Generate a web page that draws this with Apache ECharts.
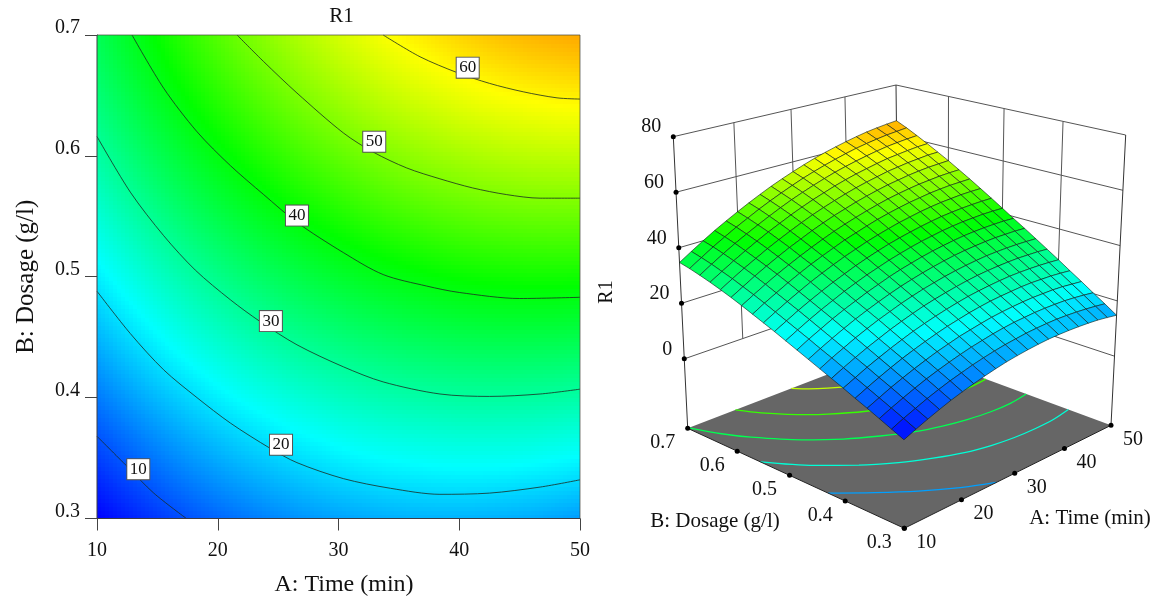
<!DOCTYPE html>
<html><head><meta charset="utf-8">
<style>html,body{margin:0;padding:0;background:#fff}#c{width:1161px;height:599px}</style>
<script src="https://cdn.jsdelivr.net/npm/echarts@6/dist/echarts.min.js"></script>
</head><body><div id="c"></div>
<script>
// Axis categories
const timeTicks = [10,20,30,40,50];
const dosageTicks = [0.3,0.4,0.5,0.6,0.7];
const r1Ticks = [0,20,40,60,80];
const gridTimes = [10,12,14,16,18,20,22,24,26,28,30,32,34,36,38,40,42,44,46,48,50];
const gridDosages = [0.30,0.32,0.34,0.36,0.38,0.40,0.42,0.44,0.46,0.48,0.50,0.52,0.54,0.56,0.58,0.60,0.62,0.64,0.66,0.68,0.70];

// R1 read at each Time, for Dosage 0.30 .. 0.70
const r1AtTime10 = [3.4,5.2,7.0,8.8,10.5,12.3,14.0,15.7,17.4,19.1,20.8,22.5,24.1,25.7,27.3,28.8,30.2,31.5,32.7,33.8,34.7];
const r1AtTime12 = [5.1,7.0,8.8,10.6,12.4,14.2,16.0,17.8,19.5,21.3,23.0,24.7,26.4,28.1,29.7,31.2,32.7,34.0,35.3,36.4,37.4];
const r1AtTime14 = [6.7,8.6,10.5,12.4,14.2,16.1,17.9,19.7,21.5,23.3,25.1,26.9,28.6,30.3,32.0,33.6,35.1,36.5,37.8,39.0,40.0];
const r1AtTime16 = [8.2,10.2,12.1,14.0,15.9,17.8,19.7,21.6,23.4,25.3,27.1,28.9,30.7,32.5,34.2,35.8,37.3,38.8,40.2,41.4,42.5];
const r1AtTime18 = [9.6,11.6,13.6,15.5,17.5,19.4,21.3,23.3,25.2,27.1,28.9,30.8,32.7,34.5,36.2,37.9,39.5,41.0,42.4,43.7,44.8];
const r1AtTime20 = [10.8,12.9,14.9,16.9,18.9,20.9,22.9,24.9,26.8,28.7,30.7,32.6,34.5,36.4,38.1,39.9,41.5,43.1,44.5,45.8,47.0];
const r1AtTime22 = [11.9,14.0,16.1,18.2,20.2,22.3,24.3,26.3,28.3,30.3,32.3,34.2,36.2,38.1,39.9,41.7,43.4,45.0,46.5,47.9,49.1];
const r1AtTime24 = [12.9,15.1,17.2,19.3,21.4,23.5,25.6,27.7,29.7,31.7,33.8,35.8,37.8,39.7,41.6,43.5,45.2,46.9,48.4,49.8,51.1];
const r1AtTime26 = [13.8,16.0,18.2,20.4,22.5,24.6,26.8,28.9,31.0,33.1,35.1,37.2,39.2,41.3,43.2,45.1,46.9,48.6,50.2,51.6,53.0];
const r1AtTime28 = [14.6,16.8,19.0,21.2,23.4,25.6,27.8,30.0,32.1,34.3,36.4,38.5,40.6,42.6,44.6,46.6,48.4,50.2,51.8,53.3,54.7];
const r1AtTime30 = [15.2,17.5,19.8,22.0,24.3,26.5,28.7,30.9,33.1,35.3,37.5,39.7,41.8,43.9,45.9,47.9,49.8,51.6,53.3,54.9,56.3];
const r1AtTime32 = [15.7,18.0,20.4,22.7,25.0,27.3,29.5,31.8,34.0,36.3,38.5,40.7,42.9,45.1,47.1,49.2,51.1,53.0,54.7,56.3,57.8];
const r1AtTime34 = [16.1,18.5,20.9,23.2,25.6,27.9,30.2,32.5,34.8,37.1,39.4,41.6,43.9,46.1,48.2,50.3,52.3,54.2,56.0,57.6,59.2];
const r1AtTime36 = [16.4,18.8,21.2,23.6,26.0,28.4,30.8,33.1,35.5,37.8,40.1,42.4,44.7,47.0,49.2,51.3,53.3,55.3,57.1,58.8,60.4];
const r1AtTime38 = [16.5,19.0,21.5,23.9,26.3,28.8,31.2,33.6,36.0,38.4,40.8,43.1,45.5,47.8,50.0,52.2,54.2,56.2,58.1,59.9,61.5];
const r1AtTime40 = [16.5,19.1,21.6,24.1,26.6,29.1,31.5,34.0,36.4,38.9,41.3,43.7,46.1,48.4,50.7,52.9,55.1,57.1,59.0,60.9,62.5];
const r1AtTime42 = [16.4,19.0,21.6,24.1,26.7,29.2,31.7,34.2,36.7,39.2,41.7,44.1,46.6,49.0,51.3,53.6,55.7,57.9,59.8,61.7,63.4];
const r1AtTime44 = [16.2,18.8,21.5,24.1,26.6,29.2,31.8,34.3,36.9,39.4,41.9,44.4,46.9,49.4,51.7,54.1,56.3,58.4,60.5,62.4,64.2];
const r1AtTime46 = [15.9,18.5,21.2,23.9,26.5,29.1,31.7,34.3,36.9,39.5,42.1,44.6,47.2,49.7,52.1,54.5,56.7,58.9,61.0,63.0,64.8];
const r1AtTime48 = [15.4,18.1,20.8,23.5,26.2,28.9,31.6,34.2,36.9,39.5,42.1,44.7,47.3,49.8,52.3,54.7,57.1,59.3,61.4,63.4,65.3];
const r1AtTime50 = [14.8,17.6,20.3,23.1,25.8,28.6,31.3,34.0,36.7,39.3,42.0,44.7,47.3,49.9,52.4,54.9,57.2,59.5,61.7,63.8,65.7];
const r1Grid = [r1AtTime10,r1AtTime12,r1AtTime14,r1AtTime16,r1AtTime18,r1AtTime20,r1AtTime22,r1AtTime24,r1AtTime26,r1AtTime28,r1AtTime30,r1AtTime32,r1AtTime34,r1AtTime36,r1AtTime38,r1AtTime40,r1AtTime42,r1AtTime44,r1AtTime46,r1AtTime48,r1AtTime50];

// Contours of the flat plot as [Time, Dosage]
const contour10 = [[10,.368],[12.5,.343],[14.7,.321],[17.4,.30]];
const contour20 = [[10,.488],[12.76,.453],[15.52,.423],[18.28,.40],[21.04,.379],[24.35,.358],[26.56,.3462],[30.4,.333],[34.3,.325],[38.4,.32],[42.5,.321],[46.7,.326],[50,.332]];
const contour30 = [[10,.616],[12.76,.57],[15.52,.534],[18.14,.5055],[21.04,.481],[23.5,.463],[26.56,.4437],[30.4,.4255],[33.7,.413],[38.4,.403],[42.5,.401],[46.7,.403],[50,.407]];
const contour40 = [[12.9,.70],[15.52,.656],[18.28,.62],[21.04,.592],[23.8,.568],[26.56,.545],[30.4,.52],[33.7,.5018],[37.3,.4923],[40,.487],[45,.482],[50,.483]];
const contour50 = [[21.6,.70],[23.8,.678],[26.56,.652],[30.4,.619],[32.9,.603],[35.65,.59],[38.4,.581],[41.1,.5735],[43.9,.568],[46.7,.565],[50,.565]];
const contour60 = [[33.7,.70],[36.75,.682],[39.8,.669],[42.5,.66],[45.3,.653],[48.1,.648],[50,.647]];
const contourLevels = [10,20,30,40,50,60];
const contourLines = [contour10,contour20,contour30,contour40,contour50,contour60];
const contourLabelPoints = [[13.42,.3408],[25.24,.361],[24.4,.4633],[26.56,.5506],[32.96,.6117],[40.7,.673]];

// Contours on the floor of the 3D box as [Time, Dosage]
const floor15 = [[10,.43],[14,.39],[18,.354],[22,.325],[26.5,.30]];
const floor25 = [[10,.555],[14,.499],[18,.458],[22,.427],[26,.404],[30,.386],[34,.375],[38,.369],[42,.367],[46,.368],[50,.374]];
const floor35 = [[10.2,.70],[12,.655],[14,.619],[18,.566],[22,.528],[26,.50],[30,.477],[34,.462],[38,.452],[42,.446],[46,.445],[50,.45]];
const floor45 = [[18.2,.70],[20,.668],[24,.618],[26,.60],[30,.571],[34,.55],[38,.536],[42,.527],[46,.523],[50,.526]];
const floor55 = [[28.4,.70],[30,.681],[32,.664],[36,.637],[40,.619],[44,.608],[48,.603],[50,.601]];
const floorLevels = [15,25,35,45,55];
const floorLines = [floor15,floor25,floor35,floor45,floor55];

// Colour ramp
const rampStops = [3.4,22,41,59.5,78];
const rampColors = [[0,0,255],[0,255,255],[0,255,0],[255,255,0],[255,0,0]];
function ramp(v){
  let k=0; while(k<rampStops.length-2 && v>rampStops[k+1]) k++;
  const t=Math.max(0,Math.min(1,(v-rampStops[k])/(rampStops[k+1]-rampStops[k])));
  const a=rampColors[k],b=rampColors[k+1];
  return 'rgb('+[0,1,2].map(n=>Math.round(a[n]+(b[n]-a[n])*t)).join(',')+')';
}

// 3D view: screen position of the box corners, order (u,v) = 00,10,01,11
const floorBox = [[904.3,528.3],[1111,425.3],[687.7,428.3],[899,347]];
const topBox = [[903,201],[1125.7,135],[673.3,136.7],[896,85]];
const zFloor = -25, zTop = 80;
function square(c){
  const [x0,y0]=c[0],[x1,y1]=c[1],[x3,y3]=c[2],[x2,y2]=c[3];
  const dx1=x1-x2,dx2=x3-x2,sx=x0-x1+x2-x3,dy1=y1-y2,dy2=y3-y2,sy=y0-y1+y2-y3;
  const d=dx1*dy2-dx2*dy1,g=(sx*dy2-dx2*sy)/d,h=(dx1*sy-sx*dy1)/d;
  return (u,v)=>{const w=g*u+h*v+1;return [((x1-x0+g*x1)*u+(x3-x0+h*x3)*v+x0)/w,((y1-y0+g*y1)*u+(y3-y0+h*y3)*v+y0)/w];};
}
const floorMap=square(floorBox),topMap=square(topBox);
function project(A,B,z){
  const u=(A-10)/40,v=(B-.3)/.4,w=(z-zFloor)/(zTop-zFloor);
  const f=floorMap(u,v),t=topMap(u,v);
  return [f[0]+(t[0]-f[0])*w,f[1]+(t[1]-f[1])*w];
}

const serif='Liberation Serif';
// Left heat cells
const cellData=[];
for(let i=0;i<20;i++)for(let j=0;j<20;j++)cellData.push([gridTimes[i],gridDosages[j],i,j]);
const SUB=6;
function heatCell(p,api){
  const i=api.value(2),j=api.value(3),kids=[];
  const a=r1Grid[i][j],b=r1Grid[i+1][j],c=r1Grid[i][j+1],d=r1Grid[i+1][j+1];
  const p0=api.coord([gridTimes[i],gridDosages[j]]),p1=api.coord([gridTimes[i+1],gridDosages[j+1]]);
  for(let m=0;m<SUB;m++)for(let n=0;n<SUB;n++){
    const s=(m+.5)/SUB,t=(n+.5)/SUB,v=a*(1-s)*(1-t)+b*s*(1-t)+c*(1-s)*t+d*s*t;
    const x0=Math.floor(p0[0]+(p1[0]-p0[0])*m/SUB),x1=Math.ceil(p0[0]+(p1[0]-p0[0])*(m+1)/SUB);
    const y0=Math.ceil(p0[1]+(p1[1]-p0[1])*n/SUB),y1=Math.floor(p0[1]+(p1[1]-p0[1])*(n+1)/SUB);
    kids.push({type:'rect',shape:{x:x0,y:y1,width:x1-x0,height:y0-y1},style:{fill:ramp(v)}});
  }
  return {type:'group',children:kids};
}
// Surface quads, back to front
const quadData=[];
for(let i=19;i>=0;i--)for(let j=19;j>=0;j--)quadData.push([i,j]);
function surfaceQuad(p,api){
  const i=api.value(0),j=api.value(1);
  const corners=[[i,j],[i+1,j],[i+1,j+1],[i,j+1]];
  const pts=corners.map(c=>api.coord(project(gridTimes[c[0]],gridDosages[c[1]],r1Grid[c[0]][c[1]])));
  const mean=corners.reduce((s,c)=>s+r1Grid[c[0]][c[1]],0)/4;
  return {type:'polygon',shape:{points:pts},style:{fill:ramp(mean),stroke:'#0e1c16',lineWidth:.6}};
}
// Wall and edge segments
const wallSegs=[],poleSegs=[],edgeSegs=[];
r1Ticks.forEach(z=>{
  wallSegs.push([...project(10,.7,z),...project(50,.7,z)]);
  wallSegs.push([...project(50,.7,z),...project(50,.3,z)]);
});
[20,30,40].forEach(A=>wallSegs.push([...project(A,.7,0),...project(A,.7,80)]));
[.4,.5,.6].forEach(B=>wallSegs.push([...project(50,B,0),...project(50,B,80)]));
poleSegs.push([...project(10,.7,zFloor),...project(10,.7,80)]);
poleSegs.push([...project(50,.3,zFloor),...project(50,.3,80)]);
poleSegs.push([...project(50,.7,zFloor),...project(50,.7,80)]);
edgeSegs.push([...project(10,.7,zFloor),...project(10,.3,zFloor)]);
edgeSegs.push([...project(10,.3,zFloor),...project(50,.3,zFloor)]);
const segRender=(color,width)=>(p,api)=>{
  const a=api.coord([api.value(0),api.value(1)]),b=api.coord([api.value(2),api.value(3)]);
  return {type:'line',shape:{x1:a[0],y1:a[1],x2:b[0],y2:b[1]},style:{stroke:color,lineWidth:width}};
};
const seg3d=(data,color,width,z)=>({type:'custom',xAxisIndex:1,yAxisIndex:1,silent:true,clip:false,z,data,renderItem:segRender(color,width),encode:{x:[0,2],y:[1,3]}});

const zLabelData=r1Ticks.map(z=>({value:project(10,.7,z),name:String(z)}));
const bLabelData=dosageTicks.map(B=>({value:project(10,B,zFloor),name:B.toFixed(1)}));
const aLabelData=timeTicks.map(A=>({value:project(A,.3,zFloor),name:String(A)}));
const labelSeries=(data,offset,align)=>({type:'scatter',xAxisIndex:1,yAxisIndex:1,silent:true,z:20,symbolSize:0,itemStyle:{opacity:1},data,
  label:{show:true,position:'inside',offset,align,verticalAlign:'middle',formatter:'{b}',fontFamily:serif,fontSize:20,color:'#111'}});
const dotSeries=data=>({type:'scatter',xAxisIndex:1,yAxisIndex:1,silent:true,z:7,symbolSize:5,itemStyle:{color:'#000',opacity:1},data:data.map(d=>d.value)});

const series=[
  {type:'custom',xAxisIndex:0,yAxisIndex:0,silent:true,z:2,data:cellData,renderItem:heatCell,encode:{x:0,y:1}},
  {type:'line',xAxisIndex:0,yAxisIndex:0,silent:true,z:4,showSymbol:false,symbol:'none',clip:false,data:[[10,.7],[50,.7],[50,.3]],lineStyle:{color:'rgba(70,70,60,.7)',width:1}},
  {type:'line',xAxisIndex:0,yAxisIndex:0,silent:true,z:4,showSymbol:false,symbol:'none',clip:false,data:[[10,.7],[10,.3],[50,.3]],lineStyle:{color:'#3c3c44',width:1}},
  ...contourLines.map(c=>({type:'line',xAxisIndex:0,yAxisIndex:0,silent:true,z:3,showSymbol:false,symbol:'none',smooth:.3,data:c,lineStyle:{color:'#1c2b22',width:.8}})),
  {type:'scatter',xAxisIndex:0,yAxisIndex:0,silent:true,z:5,symbolSize:0,itemStyle:{opacity:1},data:contourLabelPoints.map((p,k)=>({value:p,name:String(contourLevels[k])})),
    label:{show:true,position:'inside',formatter:'{b}',fontFamily:serif,fontSize:17,color:'#111',backgroundColor:'#fff',borderColor:'#555',borderWidth:1,padding:[2,2.5,1,2.5]}},
  seg3d(wallSegs,'#555',1,1),
  seg3d(poleSegs,'#333',1,1),
  {type:'custom',xAxisIndex:1,yAxisIndex:1,silent:true,clip:false,z:2,data:[[0]],encode:{x:0,y:0},
    renderItem:(p,api)=>({type:'polygon',shape:{points:[floorBox[0],floorBox[1],floorBox[3],floorBox[2]].map(q=>api.coord(q))},style:{fill:'#666666'}})},
  ...floorLines.map((c,k)=>({type:'line',xAxisIndex:1,yAxisIndex:1,silent:true,z:3,showSymbol:false,symbol:'none',smooth:.3,clip:false,
    data:c.map(q=>project(q[0],q[1],zFloor)),lineStyle:{color:ramp(floorLevels[k]),width:1.3}})),
  seg3d(edgeSegs,'#222',1,4),
  dotSeries(zLabelData),dotSeries(bLabelData),dotSeries(aLabelData),
  {type:'custom',xAxisIndex:1,yAxisIndex:1,silent:true,clip:false,z:6,data:quadData,renderItem:surfaceQuad,encode:{x:0,y:1}},
  labelSeries(zLabelData,[-12,-9.5],'right'),
  labelSeries(bLabelData,[-25,14.5],'center'),
  labelSeries(aLabelData,[22,14],'center')
];

const chart=echarts.init(document.getElementById('c'),null,{renderer:'canvas'});
chart.setOption({
  animation:false,
  backgroundColor:'#fff',
  textStyle:{fontFamily:serif},
  title:{text:'R1',left:336.5,top:1,textAlign:'center',textStyle:{fontFamily:serif,fontSize:21,fontWeight:'normal',color:'#111'}},
  grid:[{left:97,top:35,width:483,height:483.5,outerBoundsMode:'none'},{left:0,top:0,width:1161,height:599,outerBoundsMode:'none'}],
  xAxis:[
    {type:'value',gridIndex:0,min:10,max:50,interval:10,name:'A: Time (min)',nameLocation:'middle',nameGap:54,nameMoveOverlap:false,
      nameTextStyle:{fontFamily:serif,fontSize:24,color:'#111',padding:[0,0,0,11]},splitLine:{show:false},
      axisLine:{lineStyle:{color:'#3c3c44'}},axisTick:{length:12,lineStyle:{color:'#444'}},
      axisLabel:{margin:22,fontFamily:serif,fontSize:20,color:'#111',showMinLabel:true,showMaxLabel:true}},
    {type:'value',gridIndex:1,min:0,max:1161,show:false}
  ],
  yAxis:[
    {type:'value',gridIndex:0,min:.3,max:.7,interval:.1,name:'B: Dosage (g/l)',nameLocation:'middle',nameGap:58,nameMoveOverlap:false,
      nameTextStyle:{fontFamily:serif,fontSize:25,color:'#111'},splitLine:{show:false},
      axisLine:{lineStyle:{color:'#3c3c44'}},axisTick:{length:12,lineStyle:{color:'#444'}},
      axisLabel:{margin:17,fontFamily:serif,fontSize:20,color:'#111',verticalAlign:'bottom',lineHeight:14,formatter:v=>v.toFixed(1),showMinLabel:true,showMaxLabel:true}},
    {type:'value',gridIndex:1,min:0,max:599,inverse:true,show:false}
  ],
  graphic:[
    {type:'text',x:1090,y:518,z:30,style:{text:'A: Time (min)',align:'center',verticalAlign:'middle',fontFamily:serif,fontSize:21,fill:'#111'}},
    {type:'text',x:715,y:521,z:30,style:{text:'B: Dosage (g/l)',align:'center',verticalAlign:'middle',fontFamily:serif,fontSize:21,fill:'#111'}},
    {type:'text',x:607,y:292,rotation:Math.PI/2,z:30,style:{text:'R1',align:'center',verticalAlign:'middle',fontFamily:serif,fontSize:20,fill:'#111'}}
  ],
  series
});
</script></body></html>
